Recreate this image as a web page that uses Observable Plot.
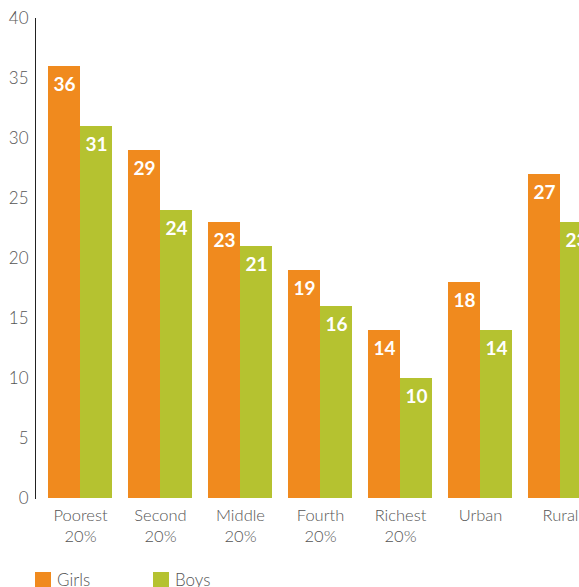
<!DOCTYPE html>
<html>
<head>
<meta charset="utf-8">
<script src="https://cdn.jsdelivr.net/npm/d3@7"></script>
<script src="https://cdn.jsdelivr.net/npm/@observablehq/plot@0.6"></script>
<style>
  html, body { margin: 0; padding: 0; background: #fff; overflow: hidden; }
  #wrap { position: relative; width: 579px; height: 587px; overflow: hidden; }
  #chart svg { display: block; max-width: none; overflow: hidden; }
  .legend { position: absolute; left: 35px; top: 569px; display: flex; font-family: Lato, "Open Sans", sans-serif; font-weight: 300; font-size: 17px; color: #555; }
  .legend .item { display: flex; align-items: center; }
  .legend .sw { width: 16px; height: 16px; margin-right: 6px; }
</style>
</head>
<body>
<div id="wrap">
  <div id="chart"></div>
  <div class="legend">
    <div class="item" style="width:118px"><span class="sw" style="background:#F08A1E"></span>Girls</div>
    <div class="item"><span class="sw" style="background:#B5C230"></span>Boys</div>
  </div>
</div>
<script>
const categories = ["Poorest\n20%", "Second\n20%", "Middle\n20%", "Fourth\n20%", "Richest\n20%", "Urban", "Rural"];
const girls = [36, 29, 23, 19, 14, 18, 27];
const boys = [31, 24, 21, 16, 10, 14, 23];
const yTicks = [0, 5, 10, 15, 20, 25, 30, 35, 40];
const colors = {Girls: "#F08A1E", Boys: "#B5C230"};

const girlsData = categories.map((c, i) => ({category: c, value: girls[i]}));
const boysData = categories.map((c, i) => ({category: c, value: boys[i]}));

const chart = Plot.plot({
  width: 579,
  height: 550,
  marginTop: 18,
  marginBottom: 52,
  marginLeft: 35,
  marginRight: 0,
  style: {fontFamily: "Lato, 'Open Sans', sans-serif", background: "#fff"},
  x: {domain: categories, range: [40, 600], paddingInner: 0.2, paddingOuter: 0.1, label: null},
  y: {domain: [0, 40], label: null},
  marks: [
    Plot.barY(girlsData, {x: "category", y: "value", fill: colors.Girls, insetRight: 32}),
    Plot.barY(boysData, {x: "category", y: "value", fill: colors.Boys, insetLeft: 32}),
    Plot.text(girlsData, {x: "category", y: "value", text: d => String(d.value), dx: -16, dy: 18, fill: "white", fontSize: 19, fontWeight: "bold"}),
    Plot.text(boysData, {x: "category", y: "value", text: d => String(d.value), dx: 16, dy: 18, fill: "white", fontSize: 19, fontWeight: "bold"}),
    Plot.axisY({ticks: yTicks, tickSize: 0, tickPadding: 7, fontSize: 17, fontWeight: 300, fill: "#555", label: null}),
    Plot.axisX({tickSize: 0, tickPadding: 8, fontSize: 16.5, fontWeight: 300, fill: "#555", lineHeight: 1.25, label: null}),
    Plot.frame({anchor: "left", stroke: "#222"})
  ]
});
document.getElementById("chart").appendChild(chart);
</script>
</body>
</html>
